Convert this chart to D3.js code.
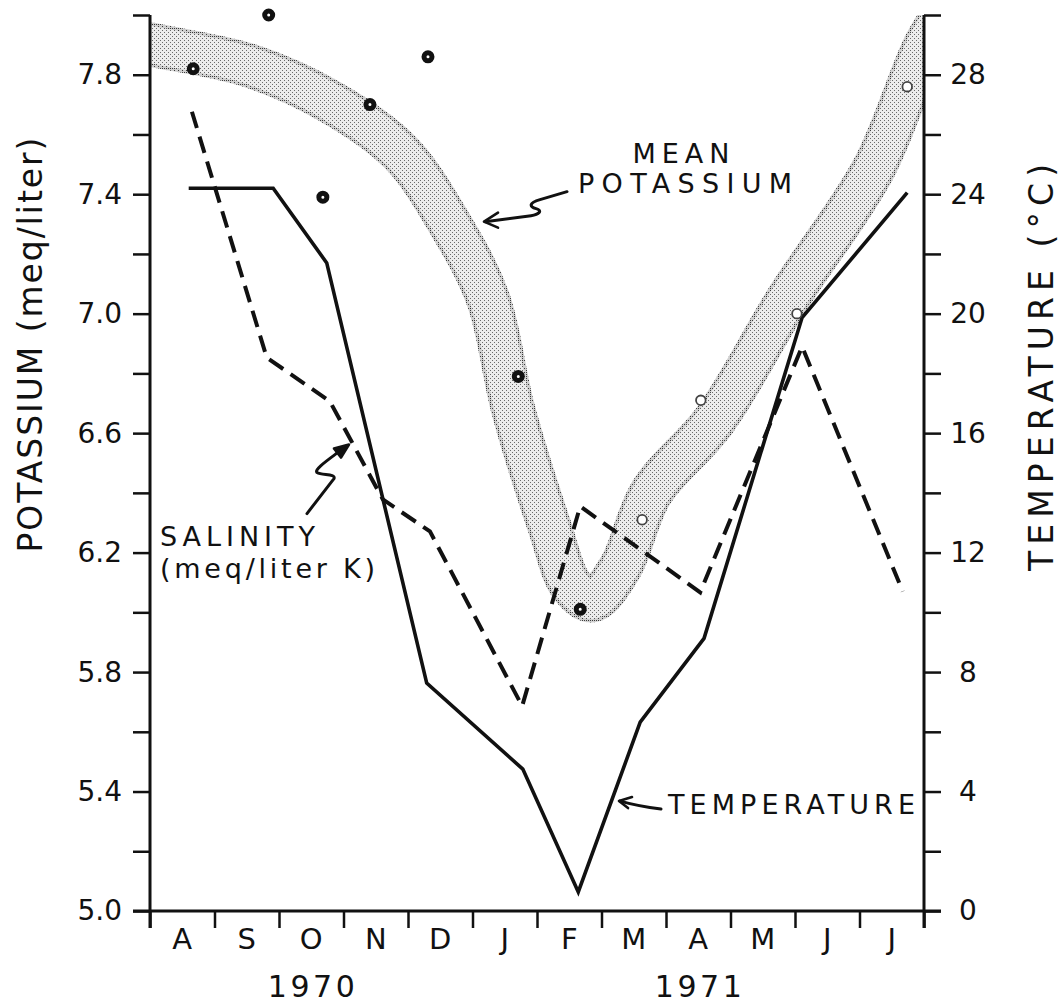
<!DOCTYPE html>
<html>
<head>
<meta charset="utf-8">
<script src="https://cdn.jsdelivr.net/npm/d3@7"></script>
<style>
  html, body { margin: 0; padding: 0; background: #ffffff; }
  svg text { font-family: "DejaVu Sans", sans-serif; fill: #111; }
</style>
</head>
<body>
<script>
// ---------------- DATA ----------------
const months = ["A", "S", "O", "N", "D", "J", "F", "M", "A", "M", "J", "J"];
const yearLabels = ["1970", "1971"];
const yearMonthIndex = [2, 8];           // month under which each year is centred

// individual potassium samples (month index from start of Aug 1970, meq/liter)
const potMonth = [0.67, 1.84, 2.68, 3.41, 4.31, 5.71, 6.67, 7.63, 8.54, 10.03, 11.74];
const potK     = [7.82, 8.00, 7.39, 7.70, 7.86, 6.79, 6.01, 6.31, 6.71, 7.00, 7.76];

// mean potassium band (centre line)
const bandMonth = [-0.4, 0.03, 1.55, 2.79, 3.88, 4.65, 5.24, 5.63, 6.19, 6.53, 6.85, 7.29, 7.77, 8.76, 9.89, 11.23, 12.02, 12.4];
const bandK     = [7.92, 7.90, 7.83, 7.71, 7.54, 7.30, 7.05, 6.68, 6.29, 6.09, 6.04, 6.15, 6.40, 6.645, 7.05, 7.49, 7.90, 8.03];

// salinity (meq/liter K)
const salMonth = [0.65, 1.81, 2.79, 3.61, 4.34, 5.77, 6.67, 8.53, 10.11, 11.67];
const salK     = [7.676, 6.853, 6.706, 6.378, 6.271, 5.686, 6.355, 6.067, 6.890, 6.070];

// temperature (°C)
const tempMonth = [0.60, 1.91, 2.74, 4.29, 5.78, 6.64, 7.60, 8.59, 10.11, 11.74];
const tempC     = [24.2, 24.2, 21.7, 7.63, 4.75, 0.64, 6.32, 9.13, 19.87, 24.05];

// axis ticks
const kTicks = [5.0, 5.2, 5.4, 5.6, 5.8, 6.0, 6.2, 6.4, 6.6, 6.8, 7.0, 7.2, 7.4, 7.6, 7.8, 8.0];
const kTickLabels = ["5.0", "5.4", "5.8", "6.2", "6.6", "7.0", "7.4", "7.8"];
const tTicks = [0, 2, 4, 6, 8, 10, 12, 14, 16, 18, 20, 22, 24, 26, 28, 30];
const tTickLabels = ["0", "4", "8", "12", "16", "20", "24", "28"];
const monthTicks = [0, 1, 2, 3, 4, 5, 6, 7, 8, 9, 10, 11, 12];

// annotations (anchored in data units: month index, K)
const labelText  = ["MEAN", "POTASSIUM", "SALINITY", "(meq/liter K)", "TEMPERATURE"];
const labelMonth = [8.233, 8.295, 0.155, 0.155, 8.031];
const labelK     = [7.505, 7.405, 6.221, 6.114, 5.324];
const arrowMonth = [5.163, 3.054, 7.256];   // tips: mean potassium, salinity, temperature
const arrowK     = [7.308, 6.555, 5.368];

// ---------------- LAYOUT ----------------
const W = 1061, H = 1005;
const L = 150, R = 924, T = 15, B = 911;

const x  = d3.scaleLinear().domain([0, 12]).range([L, R]);
const yK = d3.scaleLinear().domain([5, 8]).range([B, T]);
const yT = d3.scaleLinear().domain([0, 30]).range([B, T]);

const svg = d3.select("body").append("svg").attr("width", W).attr("height", H);
const defs = svg.append("defs");

defs.append("clipPath").attr("id", "plotclip")
  .append("rect").attr("x", L).attr("y", T).attr("width", R - L).attr("height", B - T);

const pDark = defs.append("pattern").attr("id", "stipDark")
  .attr("width", 4).attr("height", 4).attr("patternUnits", "userSpaceOnUse");
pDark.append("rect").attr("width", 4).attr("height", 4).attr("fill", "#cfcfcf");
[[0,0],[2,2],[2,0]].forEach(p => pDark.append("rect").attr("x", p[0]).attr("y", p[1]).attr("width", 1).attr("height", 1).attr("fill", "#3a3a3a"));

const pLight = defs.append("pattern").attr("id", "stipLight")
  .attr("width", 4).attr("height", 4).attr("patternUnits", "userSpaceOnUse");
pLight.append("rect").attr("width", 4).attr("height", 4).attr("fill", "#ececec");
[[0,0],[2,2]].forEach(p => pLight.append("rect").attr("x", p[0]).attr("y", p[1]).attr("width", 1).attr("height", 1).attr("fill", "#6a6a6a"));

// ---------------- MEAN POTASSIUM BAND ----------------
const bandPts = bandMonth.map((m, i) => [m, bandK[i]]);
const bandLine = d3.line().x(d => x(d[0])).y(d => yK(d[1])).curve(d3.curveCatmullRom.alpha(0.5));
const gBand = svg.append("g").attr("clip-path", "url(#plotclip)");
gBand.append("path").attr("d", bandLine(bandPts)).attr("fill", "none")
  .attr("stroke", "url(#stipDark)").attr("stroke-width", 44).attr("stroke-linejoin", "round");
gBand.append("path").attr("d", bandLine(bandPts)).attr("fill", "none")
  .attr("stroke", "url(#stipLight)").attr("stroke-width", 37).attr("stroke-linejoin", "round");

// ---------------- AXES ----------------
const axisFont = 28;

// left axis
const gL = svg.append("g").attr("transform", `translate(${L},0)`)
  .call(d3.axisLeft(yK).tickValues(kTicks).tickSize(17).tickPadding(11)
    .tickFormat(d => { const s = d.toFixed(1); return kTickLabels.includes(s) ? s : ""; }));
gL.select(".domain").remove();
gL.selectAll(".tick line").attr("stroke", "#111").attr("stroke-width", 2.5);
gL.selectAll(".tick text").attr("font-size", axisFont).attr("font-family", "DejaVu Sans").attr("fill", "#111");

// right axis
const gR = svg.append("g").attr("transform", `translate(${R},0)`)
  .call(d3.axisRight(yT).tickValues(tTicks).tickSize(17)
    .tickFormat(d => tTickLabels.includes(String(d)) ? String(d) : ""));
gR.select(".domain").remove();
gR.selectAll(".tick line").attr("stroke", "#111").attr("stroke-width", 2.5);
gR.selectAll(".tick text").attr("x", 44).attr("text-anchor", "middle")
  .attr("font-size", axisFont).attr("font-family", "DejaVu Sans").attr("fill", "#111");

// bottom axis
const gB = svg.append("g").attr("transform", `translate(0,${B})`)
  .call(d3.axisBottom(x).tickValues(monthTicks).tickSize(17).tickFormat(""));
gB.select(".domain").remove();
gB.selectAll(".tick line").attr("stroke", "#111").attr("stroke-width", 2.5);

// axis lines
svg.append("line").attr("x1", L).attr("x2", L).attr("y1", T).attr("y2", B + 17)
  .attr("stroke", "#111").attr("stroke-width", 3);
svg.append("line").attr("x1", R).attr("x2", R).attr("y1", T).attr("y2", B + 17)
  .attr("stroke", "#111").attr("stroke-width", 3);
svg.append("line").attr("x1", L - 17).attr("x2", R + 17).attr("y1", B).attr("y2", B)
  .attr("stroke", "#111").attr("stroke-width", 3);

// month labels
svg.append("g").selectAll("text").data(months).join("text")
  .attr("x", (d, i) => x(i + 0.5)).attr("y", B + 38)
  .attr("text-anchor", "middle").attr("font-size", 29).text(d => d);

// year labels
svg.append("g").selectAll("text").data(yearLabels).join("text")
  .attr("x", (d, i) => x(yearMonthIndex[i] + 0.5)).attr("y", B + 86)
  .attr("text-anchor", "middle").attr("font-size", 30)
  .attr("textLength", 87).attr("lengthAdjust", "spacing").text(d => d);

// axis titles
svg.append("text").attr("transform", `translate(42,${(yK(7.98) + yK(5.81)) / 2}) rotate(-90)`)
  .attr("text-anchor", "middle").attr("font-size", 33)
  .attr("textLength", 415).attr("lengthAdjust", "spacing")
  .text("POTASSIUM  (meq/liter)");
svg.append("text").attr("transform", `translate(1053,${(yT(29) + yT(7.4)) / 2}) rotate(-90)`)
  .attr("text-anchor", "middle").attr("font-size", 33)
  .attr("textLength", 407).attr("lengthAdjust", "spacing")
  .text("TEMPERATURE  (°C)");

// ---------------- LINES ----------------
const salLine = d3.line().x(d => x(d[0])).y(d => yK(d[1]));
svg.append("path").attr("d", salLine(salMonth.map((m, i) => [m, salK[i]])))
  .attr("fill", "none").attr("stroke", "#111").attr("stroke-width", 4)
  .attr("stroke-dasharray", "17,9").attr("stroke-linejoin", "miter");

const tLine = d3.line().x(d => x(d[0])).y(d => yT(d[1]));
svg.append("path").attr("d", tLine(tempMonth.map((m, i) => [m, tempC[i]])))
  .attr("fill", "none").attr("stroke", "#111").attr("stroke-width", 3.6)
  .attr("stroke-linejoin", "miter");

// ---------------- POTASSIUM SAMPLE DOTS ----------------
svg.append("g").selectAll("circle").data(potMonth).join("circle")
  .attr("cx", (d, i) => x(d)).attr("cy", (d, i) => yK(potK[i]))
  .attr("r", (d, i) => i < 7 ? 4.0 : 4.8)
  .attr("fill", "#fff")
  .attr("stroke", (d, i) => i < 7 ? "#111" : "#444")
  .attr("stroke-width", (d, i) => i < 7 ? 5 : 1.8);

// ---------------- ANNOTATIONS ----------------
const labelSpec = [
  { anchor: "middle", len: 97 },
  { anchor: "middle", len: 214 },
  { anchor: "start",  len: 155 },
  { anchor: "start",  len: 215 },
  { anchor: "start",  len: 247 }
];
svg.append("g").selectAll("text").data(labelText).join("text")
  .attr("x", (d, i) => x(labelMonth[i])).attr("y", (d, i) => yK(labelK[i]))
  .attr("text-anchor", (d, i) => labelSpec[i].anchor)
  .attr("font-size", 27)
  .attr("textLength", (d, i) => labelSpec[i].len).attr("lengthAdjust", "spacing")
  .text(d => d);

const arrowShapes = [
  { body: "M84,-30 L57,-22 C46,-19 46,-15 53,-13 C60,-11 56,-7 48,-6 L2,0", head: "M15,-9 L1,0 L15,6", filled: false },
  { body: "M-40,67 L-13,32 C-11,27 -25,29 -30,26 C-33,23 -20,14 -8,5", head: "M2,-2 L-13,2 L-6,11 Z", filled: true },
  { body: "M43,8 Q20,5 2,0", head: "M14,-4 L1,0 L10,7", filled: false }
];
arrowShapes.forEach((s, i) => {
  const g = svg.append("g").attr("transform", `translate(${x(arrowMonth[i])},${yK(arrowK[i])})`);
  g.append("path").attr("d", s.body).attr("fill", "none").attr("stroke", "#111")
    .attr("stroke-width", 3).attr("stroke-linecap", "round").attr("stroke-linejoin", "round");
  g.append("path").attr("d", s.head)
    .attr("fill", s.filled ? "#111" : "none").attr("stroke", "#111")
    .attr("stroke-width", 2.6).attr("stroke-linecap", "round").attr("stroke-linejoin", "round");
});
</script>
</body>
</html>
